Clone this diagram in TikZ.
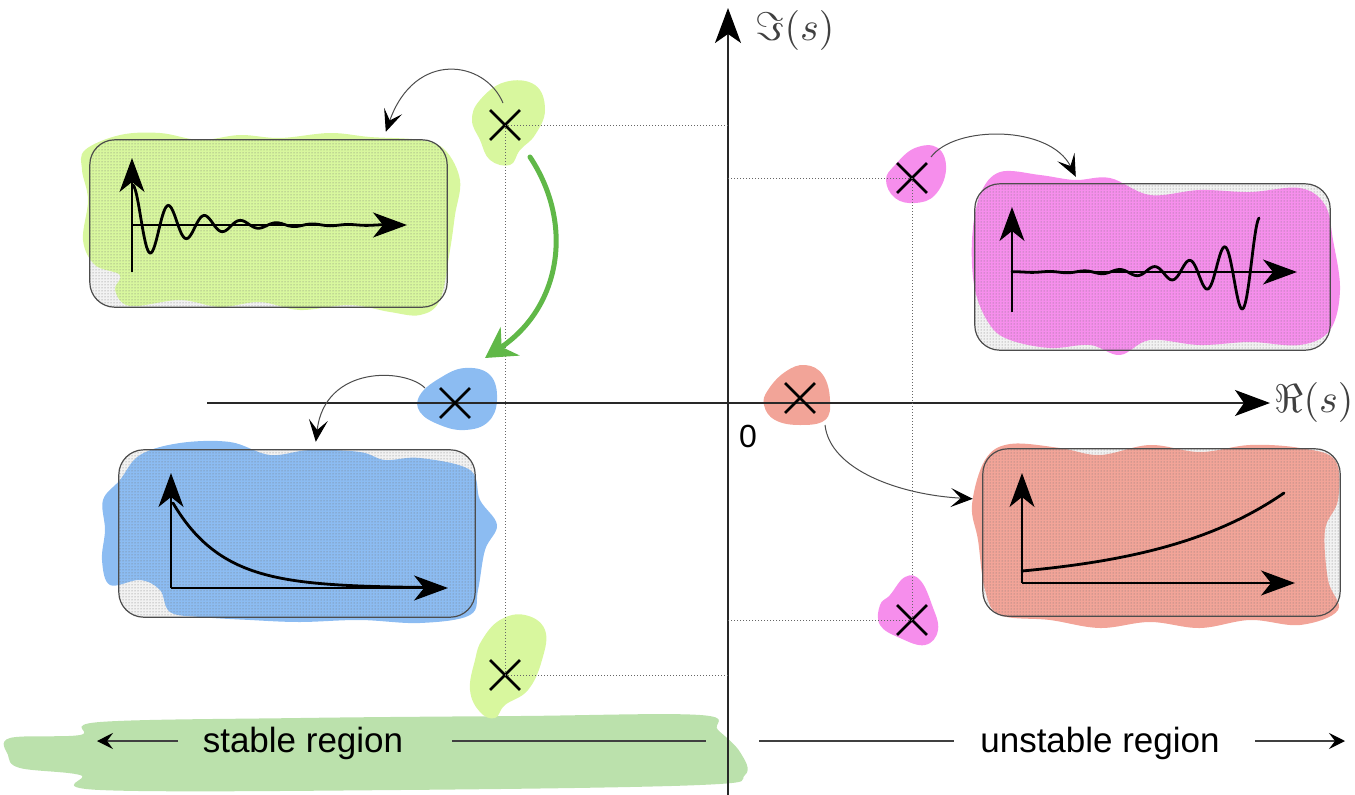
\documentclass[tikz,border=0pt]{standalone}
\usepackage{fontspec}
\setmainfont{Liberation Sans}
\usetikzlibrary{arrows.meta,shapes.misc,calc,patterns}
\definecolor{hlLime}{RGB}{216,247,158}
\definecolor{hlOrchid}{RGB}{246,142,236}
\definecolor{hlSky}{RGB}{140,188,242}
\definecolor{hlSalmon}{RGB}{242,164,152}
\definecolor{hlMoss}{RGB}{187,225,172}
\definecolor{leafGreen}{RGB}{96,184,72}
\definecolor{axisGray}{RGB}{40,40,40}
\begin{document}
\begin{tikzpicture}[x=1pt, y=-1pt,
  plane/.style={line width=1.5pt, draw=axisGray, -{Stealth[length=35pt,width=26pt,inset=9pt,color=black]}},
  guide/.style={draw=gray!80!black, line width=0.9pt, dash pattern=on 1pt off 2pt},
  pole/.style={cross out, draw=black, line width=2.8pt, minimum size=27pt, inner sep=0pt},
  panel/.style={fill=gray!10, rounded corners=25pt, inner sep=0pt},
  panelrim/.style={draw=gray!60!black, line width=1.2pt, rounded corners=25pt},
  inaxis/.style={line width=1.5pt, draw=black, -{Stealth[length=34pt,width=25pt,inset=10pt]}},
  response/.style={line width=2.8pt, line join=round, line cap=round},
  link/.style={draw=gray!60!black, line width=1pt, -{Stealth[length=22pt,width=19pt,inset=10pt,color=black]}},
  region/.style={draw=gray!50!black, line width=1.3pt},
  regtip/.style={region, -{Stealth[length=16pt,width=16pt,inset=6pt,color=black]}},
  lbl/.style={font=\fontsize{35}{40}\selectfont, inner sep=0pt},
  axlbl/.style={scale=4, inner sep=0pt, text=black!75},
]
\useasboundingbox (0,0) rectangle (1355,795);

% ---- highlighter strokes behind the region labels and the poles
\fill[hlMoss] plot[smooth cycle, tension=0.6] coordinates {
  (10,738) (80,735) (100,722) (300,718) (520,716) (700,715) (718,730) (740,752)
  (745,775) (700,785) (400,790) (100,790) (80,775) (20,768) (8,755)};
\fill[hlLime] plot[smooth cycle, tension=0.7] coordinates {
  (480,100) (505,82) (535,85) (545,110) (535,135) (520,150) (510,165) (490,160) (480,140) (472,120)};
\fill[hlLime] plot[smooth cycle, tension=0.7] coordinates {
  (500,620) (525,615) (545,630) (542,660) (528,690) (505,705) (495,718) (480,712) (470,690) (475,660) (482,640)};
\fill[hlOrchid] plot[smooth cycle, tension=0.7] coordinates {
  (895,165) (915,148) (938,148) (946,170) (935,195) (915,203) (895,198) (886,180)};
\fill[hlOrchid] plot[smooth cycle, tension=0.7] coordinates {
  (890,595) (905,577) (920,580) (932,605) (938,630) (925,645) (900,638) (880,625) (880,605)};
\fill[hlSky] plot[smooth cycle, tension=0.7] coordinates {
  (420,395) (440,378) (465,368) (490,375) (497,400) (488,422) (465,430) (440,425) (420,412)};
\fill[hlSalmon] plot[smooth cycle, tension=0.7] coordinates {
  (768,390) (785,372) (805,365) (823,375) (830,400) (825,420) (800,425) (775,420) (764,405)};

% ---- response panels
\node[panel, minimum width=357pt, minimum height=167pt] (gbox) at (268.5,223.5) {};
\node[panel, minimum width=355pt, minimum height=166pt] (pbox) at (1152.5,267) {};
\node[panel, minimum width=356pt, minimum height=167pt] (bbox) at (297,533.5) {};
\node[panel, minimum width=357pt, minimum height=167pt] (rbox) at (1161.5,532.5) {};

\fill[hlLime] plot[smooth cycle, tension=0.6] coordinates {
  (85,150) (120,135) (160,133) (200,140) (240,135) (280,138) (330,133) (370,137)
  (420,140) (445,150) (460,180) (455,215) (450,250) (440,300) (420,315) (390,312)
  (350,305) (300,310) (260,302) (220,307) (180,300) (130,306) (115,290) (120,275)
  (95,265) (83,240) (88,200) (82,170)};
\fill[hlOrchid] plot[smooth cycle, tension=0.6] coordinates {
  (980,195) (1000,172) (1040,175) (1075,180) (1110,178) (1150,195) (1200,190)
  (1250,192) (1300,188) (1325,205) (1333,240) (1340,290) (1330,330) (1300,345)
  (1250,342) (1200,345) (1150,340) (1120,355) (1090,345) (1050,348) (1010,340)
  (990,325) (975,290) (972,240)};
\fill[hlSky] plot[smooth cycle, tension=0.6] coordinates {
  (140,455) (180,443) (230,442) (270,455) (310,450) (360,452) (385,460) (420,458)
  (470,470) (480,500) (497,525) (485,550) (478,590) (470,615) (420,623) (360,620)
  (300,622) (250,620) (200,617) (170,612) (160,590) (140,580) (110,585) (102,560)
  (105,530) (103,500) (120,480)};
\fill[hlSalmon] plot[smooth cycle, tension=0.6] coordinates {
  (985,460) (1010,444) (1060,448) (1100,455) (1150,445) (1200,452) (1250,445)
  (1300,448) (1335,460) (1338,500) (1325,530) (1328,580) (1338,610) (1300,625)
  (1250,620) (1200,628) (1150,622) (1100,628) (1050,620) (1000,615) (985,590)
  (978,540) (972,505)};

% dotted screen over each panel, then its rim
\foreach \b in {gbox,pbox,bbox,rbox}{
  \fill[pattern=dots, pattern color=black!55, rounded corners=25pt] (\b.south west) rectangle (\b.north east);
  \draw[panelrim] (\b.south west) rectangle (\b.north east);
}

% damped oscillation
\draw[inaxis] (132,272) -- (132,158);
\draw[inaxis] (132,225) -- (407,225);
\draw[response] plot[domain=0:250, samples=220] ({133+\x}, {225-40*exp(-0.02*\x)*cos(10*\x)});
% growing oscillation
\draw[inaxis] (1012,312) -- (1012,207);
\draw[inaxis] (1012,272) -- (1297,272);
\draw[response] plot[domain=-247:0, samples=240] ({1259+\x}, {272-54*exp(0.022*\x)*cos(10.286*\x)});
% decaying exponential
\draw[inaxis] (171,588) -- (171,473);
\draw[inaxis] (171,588) -- (448,588);
\draw[response] plot[domain=173:440, samples=120] (\x, {588-85*exp(-(\x-173)/50)});
% growing exponential
\draw[inaxis] (1022,583) -- (1022,473);
\draw[inaxis] (1022,583) -- (1295,583);
\draw[response] plot[domain=1022:1284, samples=120] (\x, {583-12*exp((\x-1022)/130)});

% ---- s-plane axes
\coordinate (O) at (728,403);
\coordinate (reStart) at (207,403);
\coordinate (reEnd) at (1270,403);
\coordinate (imStart) at (728,795);
\coordinate (imEnd) at (728,8);
\draw[plane] (reStart) -- (reEnd);
\draw[plane] (imStart) -- (imEnd);
\node[axlbl] (imlbl) at (795,30) {$\Im(s)$};
\node[axlbl] (relbl) at (1314,402) {$\Re(s)$};
\node[font=\fontsize{32}{36}\selectfont, inner sep=0pt] (zero) at (748,436) {0};

% ---- poles
\node[pole] (gp1) at (505,125) {};
\node[pole] (gp2) at (505,675) {};
\node[pole] (pp1) at (912,178) {};
\node[pole] (pp2) at (912,620) {};
\node[pole] (bp) at (455,403) {};
\node[pole] (rp) at (800,398) {};

\draw[guide] (gp1.center) -- (gp1 -| O);
\draw[guide] (gp1.center) -- (gp2.center);
\draw[guide] (gp2.center) -- (gp2 -| O);
\draw[guide] (pp1.center) -- (pp1 -| O);
\draw[guide] (pp1.center) -- (pp2.center);
\draw[guide] (pp2.center) -- (pp2 -| O);

% ---- pole-to-response links
\draw[link] ($(gp1)+(-2,-22)$) .. controls +(-18,-43) and +(29,-82) .. ($(gbox.north west)+(296,-8)$);
\draw[link] ($(pp1)+(19,-21)$) .. controls +(24,-32) and +(-26,-52) .. ($(pbox.north west)+(101,-7)$);
\draw[link] ($(bp)+(-30,-15)$) .. controls +(-20,-20) and +(9,-77) .. ($(bbox.north west)+(197,-8)$);
\draw[link] ($(rp)+(25,27)$) .. controls +(5,45) and +(-73,-4) .. ($(rbox.north west)+(-10,50)$);

% the complex pair moves onto the real axis
\draw[leafGreen, line width=5pt, line cap=round,
      -{Stealth[length=30pt,width=34pt,inset=10pt]}]
  ($(gp1)+(25,32)$) .. controls +(45,68) and +(75,-50) .. ($(bp)+(30,-45)$);

% ---- region labels
\node[lbl, anchor=base] (stab) at (303,752) {stable region};
\node[lbl, anchor=base] (unst) at (1100,752) {unstable region};
\coordinate (stTip) at (97,741);
\coordinate (stA) at (178,741);
\coordinate (stB) at (452,741);
\coordinate (stC) at (706,741);
\coordinate (unA) at (759,741);
\coordinate (unB) at (954,741);
\coordinate (unC) at (1255,741);
\coordinate (unTip) at (1345,741);
\draw[regtip] (stA) -- (stTip);
\draw[region] (stB) -- (stC);
\draw[region] (unA) -- (unB);
\draw[regtip] (unC) -- (unTip);
\end{tikzpicture}
\end{document}
